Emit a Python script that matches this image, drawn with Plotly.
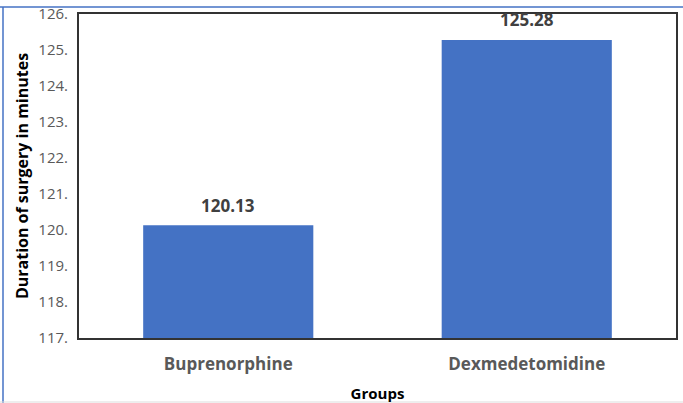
import plotly.graph_objects as go

groups = ["Buprenorphine", "Dexmedetomidine"]
durations = [120.13, 125.28]
tick_vals = [117, 118, 119, 120, 121, 122, 123, 124, 125, 126]
tick_text = [f"{v}." for v in tick_vals]

fig = go.Figure()
fig.add_trace(go.Bar(
    x=groups, y=durations, marker=dict(color="#4472C4", line=dict(width=0)),
    showlegend=False, hoverinfo="skip",
))
for g, v in zip(groups, durations):
    fig.add_annotation(x=g, y=v, text=f"<b>{v:.2f}</b>", showarrow=False,
                       yshift=20, font=dict(family="Open Sans", size=17, color="#404040"))

fig.update_layout(
    width=683, height=403,
    margin=dict(l=79, r=7, t=14, b=65),
    plot_bgcolor="white", paper_bgcolor="white",
    bargap=0.43,
    xaxis=dict(
        automargin=False,
        showline=True, linecolor="#333333", linewidth=2, mirror=True,
        tickfont=dict(family="Open Sans", size=17, color="#595959", weight="bold"),
        ticklabelstandoff=10,
        title=dict(text="<b>Groups</b>", font=dict(family="Open Sans", size=15, color="#000000"), standoff=16),
    ),
    yaxis=dict(
        automargin=False,
        range=[117, 126], tickvals=tick_vals, ticktext=tick_text,
        showgrid=False, zeroline=False,
        showline=True, linecolor="#333333", linewidth=2, mirror=True,
        tickfont=dict(family="Open Sans", size=15, color="#595959"),
        ticklabelstandoff=6,
        title=dict(text="<b>Duration of surgery in minutes</b>", font=dict(family="Open Sans", size=16, color="#000000"), standoff=6),
    ),
)
# outer blue border lines
fig.add_shape(type="line", xref="paper", yref="paper", x0=-79/597, x1=1.02, y0=1+7/324, y1=1+7/324,
              line=dict(color="#4472C4", width=1.5))
fig.add_shape(type="line", xref="paper", yref="paper", x0=-76/597, x1=-76/597, y0=-65/324, y1=1+7/324,
              line=dict(color="#4472C4", width=1.5))
fig.add_shape(type="line", xref="paper", yref="paper", x0=-79/597, x1=1.02, y0=-64/324, y1=-64/324,
              line=dict(color="#dddddd", width=1))

fig.write_html("out.html", config={"displayModeBar": False},
               post_script="document.body.style.margin='0';")
